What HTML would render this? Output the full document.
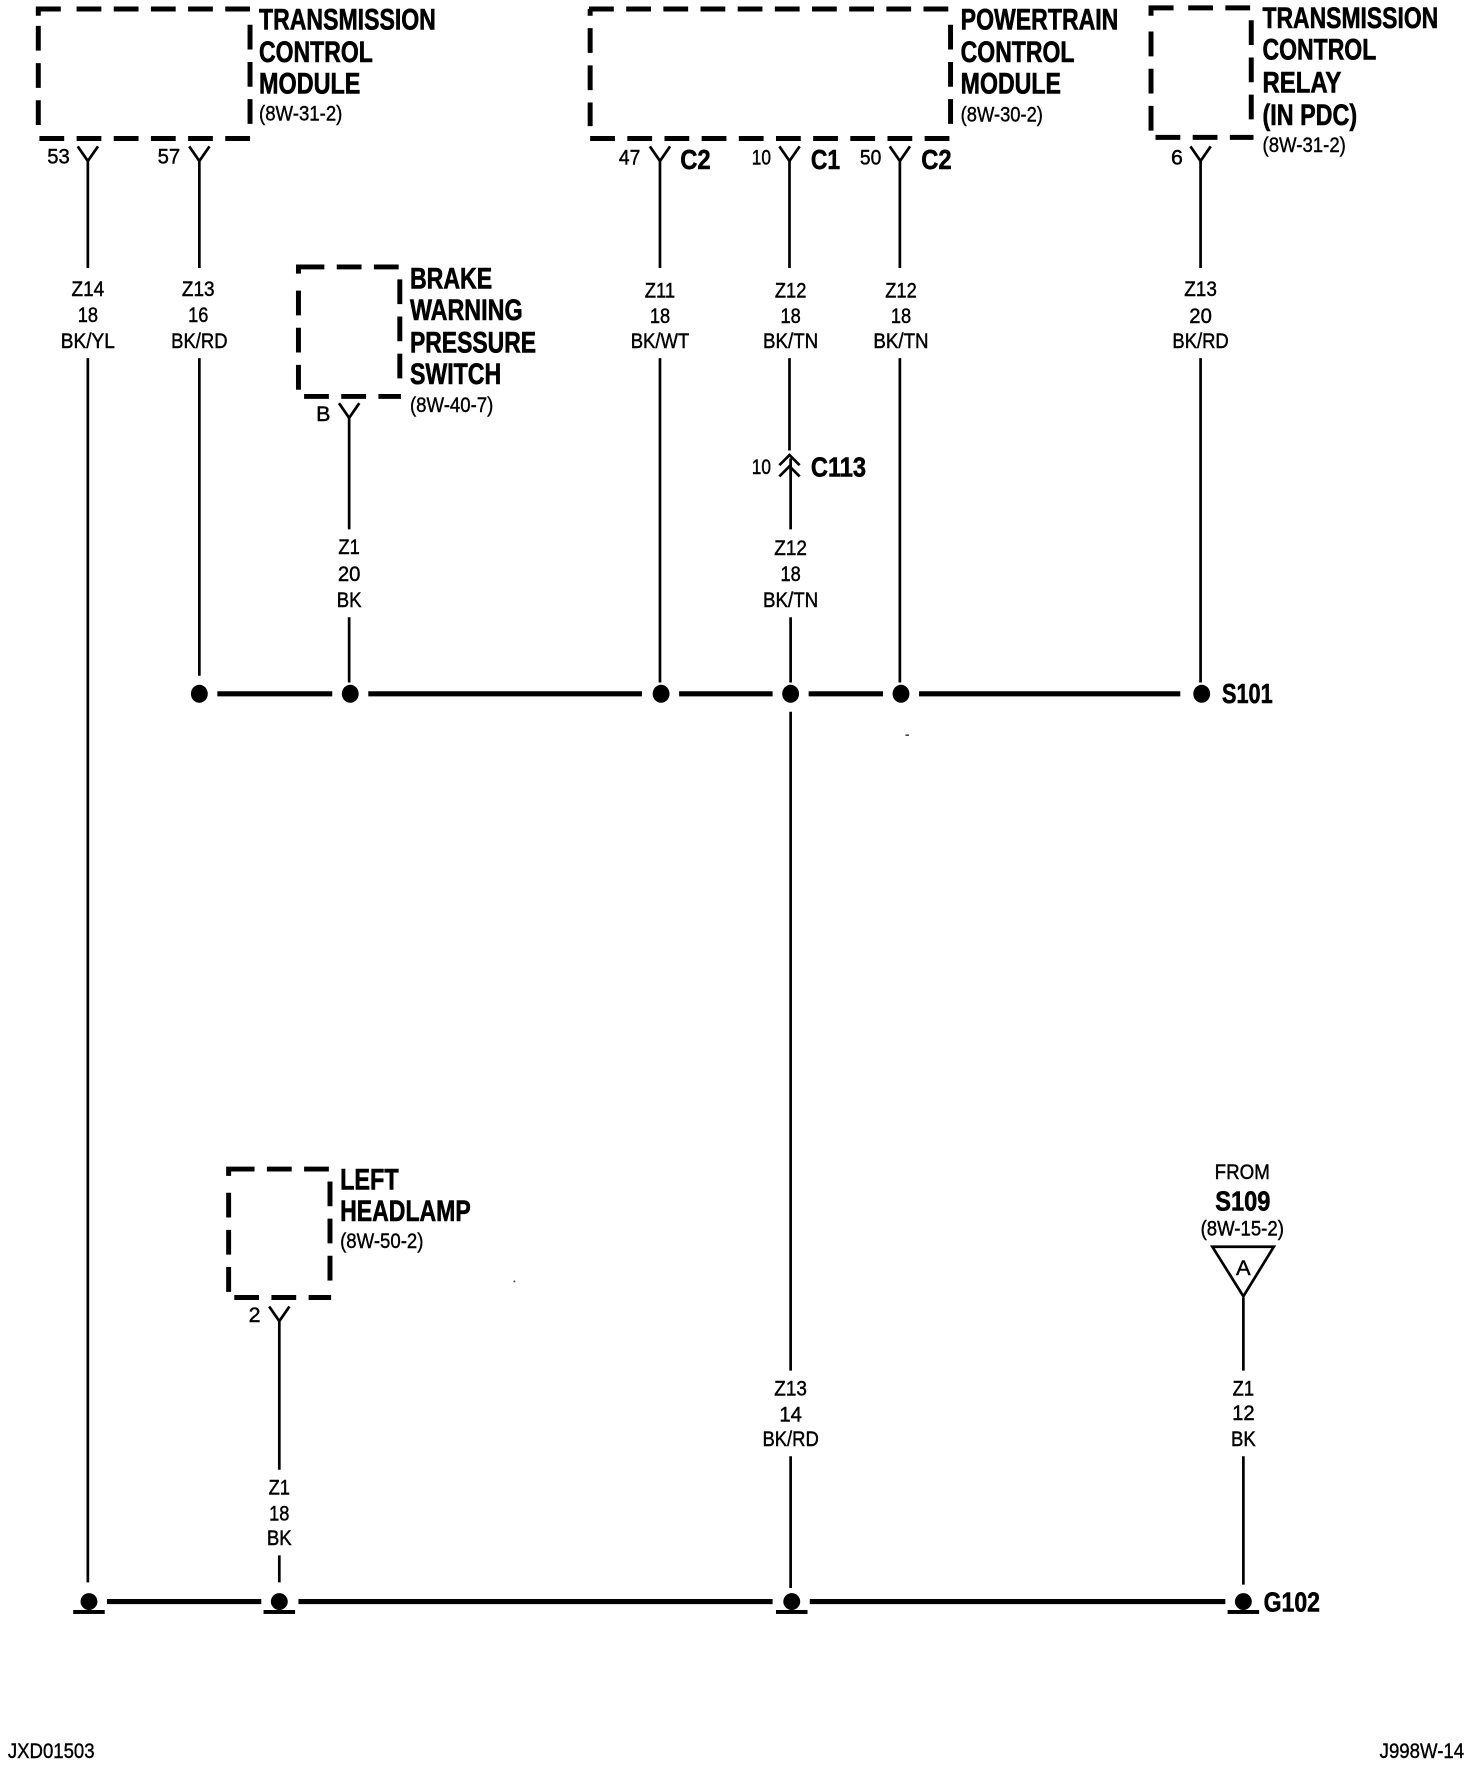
<!DOCTYPE html>
<html>
<head>
<meta charset="utf-8">
<style>
html,body{margin:0;padding:0;background:#fff;}
svg{display:block;}
text{font-family:"Liberation Sans",sans-serif;fill:#000;}
.b{font-weight:bold;font-size:26px;stroke:#000;stroke-width:.55px;}
.m{font-weight:bold;font-size:25px;stroke:#000;stroke-width:.5px;}
.s{font-size:19px;stroke:#000;stroke-width:.4px;text-anchor:middle;}
.r{font-size:19px;stroke:#000;stroke-width:.35px;}
.w{stroke:#000;stroke-width:2.4;fill:none;}
.bus{stroke:#000;stroke-width:4.6;fill:none;}
.d{stroke:#000;stroke-width:4.4;fill:none;stroke-dasharray:22 11;}
.c{stroke:#000;stroke-width:4.4;fill:none;}
</style>
</head>
<body>
<svg xmlns="http://www.w3.org/2000/svg" width="1472" height="1766" viewBox="0 0 1307 1568" preserveAspectRatio="none">
<rect width="1307" height="1568" fill="#fff"/>

<!-- TCM box -->
<path class="c" d="M34 14V8H54"/>
<path class="d" d="M68 8H224"/>
<path class="d" d="M34 23V112"/>
<path class="d" d="M222 22V110"/>
<path class="d" d="M35 123H223"/>
<text class="b" x="230" y="26" textLength="157" lengthAdjust="spacingAndGlyphs">TRANSMISSION</text>
<text class="b" x="230" y="55" textLength="101" lengthAdjust="spacingAndGlyphs">CONTROL</text>
<text class="b" x="230" y="83" textLength="90" lengthAdjust="spacingAndGlyphs">MODULE</text>
<text class="r" x="230" y="107" textLength="74" lengthAdjust="spacingAndGlyphs">(8W-31-2)</text>

<!-- PCM box -->
<path class="d" d="M523 8H845"/>
<path class="d" d="M524 25V112"/>
<path class="d" d="M844 22V110"/>
<path class="d" d="M524 123H845"/>
<path class="c" d="M524 14V8"/>
<text class="b" x="853" y="26" textLength="140" lengthAdjust="spacingAndGlyphs">POWERTRAIN</text>
<text class="b" x="853" y="55" textLength="101" lengthAdjust="spacingAndGlyphs">CONTROL</text>
<text class="b" x="853" y="83" textLength="89" lengthAdjust="spacingAndGlyphs">MODULE</text>
<text class="r" x="853" y="108" textLength="73" lengthAdjust="spacingAndGlyphs">(8W-30-2)</text>

<!-- Relay box -->
<path class="c" d="M1022 14V7H1042"/>
<path class="d" d="M1055 7H1113"/>
<path class="d" d="M1022 28V118"/>
<path class="d" d="M1111 18V107"/>
<path class="d" d="M1026 122H1113"/>
<text class="b" x="1121" y="25" textLength="156" lengthAdjust="spacingAndGlyphs">TRANSMISSION</text>
<text class="b" x="1121" y="53" textLength="101" lengthAdjust="spacingAndGlyphs">CONTROL</text>
<text class="b" x="1121" y="82" textLength="70" lengthAdjust="spacingAndGlyphs">RELAY</text>
<text class="b" x="1121" y="111" textLength="84" lengthAdjust="spacingAndGlyphs">(IN PDC)</text>
<text class="r" x="1121" y="135" textLength="74" lengthAdjust="spacingAndGlyphs">(8W-31-2)</text>

<!-- Brake box -->
<g>
<path class="c" d="M265 243V237H288"/>
<path class="d" d="M299 237H356"/>
<path class="d" d="M265 258V348"/>
<path class="d" d="M355 248V337"/>
<path class="d" d="M270 352H356"/>
</g>
<text class="b" x="364" y="256" textLength="73" lengthAdjust="spacingAndGlyphs">BRAKE</text>
<text class="b" x="364" y="284" textLength="100" lengthAdjust="spacingAndGlyphs">WARNING</text>
<text class="b" x="364" y="313" textLength="112" lengthAdjust="spacingAndGlyphs">PRESSURE</text>
<text class="b" x="364" y="341" textLength="81" lengthAdjust="spacingAndGlyphs">SWITCH</text>
<text class="r" x="364" y="366" textLength="74" lengthAdjust="spacingAndGlyphs">(8W-40-7)</text>

<!-- Headlamp box -->
<g transform="translate(-62 801)">
<path class="c" d="M265 243V237H288"/>
<path class="d" d="M299 237H356"/>
<path class="d" d="M265 258V348"/>
<path class="d" d="M355 248V337"/>
<path class="d" d="M270 351H356"/>
</g>
<text class="b" x="302" y="1056" textLength="52" lengthAdjust="spacingAndGlyphs">LEFT</text>
<text class="b" x="302" y="1084" textLength="116" lengthAdjust="spacingAndGlyphs">HEADLAMP</text>
<text class="r" x="302" y="1108" textLength="74" lengthAdjust="spacingAndGlyphs">(8W-50-2)</text>

<!-- Connector Ys -->
<path class="w" d="M69 130L78 143L87 130"/>
<path class="w" d="M168 130L177 143L186 130"/>
<path class="w" d="M577 130L586 143L595 130"/>
<path class="w" d="M692 130L701 143L710 130"/>
<path class="w" d="M790 130L799 143L808 130"/>
<path class="w" d="M1057 130L1066 143L1075 130"/>
<path class="w" d="M301 358L310 371L319 358"/>
<path class="w" d="M239 1160L248 1173L257 1160"/>

<!-- Pin labels -->
<text class="s" x="52" y="145" textLength="20" lengthAdjust="spacingAndGlyphs">53</text>
<text class="s" x="150" y="145" textLength="20" lengthAdjust="spacingAndGlyphs">57</text>
<text class="s" x="559" y="146" textLength="19" lengthAdjust="spacingAndGlyphs">47</text>
<text class="s" x="676" y="146" textLength="17" lengthAdjust="spacingAndGlyphs">10</text>
<text class="s" x="773" y="146" textLength="19" lengthAdjust="spacingAndGlyphs">50</text>
<text class="s" x="1045" y="146">6</text>
<text class="s" x="287" y="374">B</text>
<text class="s" x="226" y="1174">2</text>
<text class="s" x="676" y="421" textLength="17" lengthAdjust="spacingAndGlyphs">10</text>
<text class="m" x="604" y="150" textLength="27" lengthAdjust="spacingAndGlyphs">C2</text>
<text class="m" x="720" y="150" textLength="26" lengthAdjust="spacingAndGlyphs">C1</text>
<text class="m" x="818" y="150" textLength="27" lengthAdjust="spacingAndGlyphs">C2</text>
<text class="m" x="720" y="423" textLength="49" lengthAdjust="spacingAndGlyphs">C113</text>

<!-- Wires -->
<path class="w" d="M78 143V238M78 318V1405"/>
<path class="w" d="M177 143V238M177 318V600"/>
<path class="w" d="M310 371V470M310 548V606"/>
<path class="w" d="M586 143V238M586 318V606"/>
<path class="w" d="M701 143V238M701 318V400M702 407V470M702 548V606M702 632V1217M702 1293V1410"/>
<path class="w" d="M799 143V238M799 318V606"/>
<path class="w" d="M1066 143V238M1066 318V606"/>
<path class="w" d="M248 1173V1305M248 1381V1405"/>
<path class="w" d="M1104 1152V1217M1104 1293V1407"/>

<!-- C113 chevrons -->
<path class="w" d="M692 413L701 404L710 413M692 423L701 414L710 423"/>

<!-- Wire labels -->
<g>
<text class="s" x="78" y="263" textLength="29" lengthAdjust="spacingAndGlyphs">Z14</text>
<text class="s" x="78" y="286" textLength="18" lengthAdjust="spacingAndGlyphs">18</text>
<text class="s" x="78" y="309" textLength="48" lengthAdjust="spacingAndGlyphs">BK/YL</text>

<text class="s" x="176" y="263" textLength="29" lengthAdjust="spacingAndGlyphs">Z13</text>
<text class="s" x="176" y="286" textLength="18" lengthAdjust="spacingAndGlyphs">16</text>
<text class="s" x="177" y="309" textLength="50" lengthAdjust="spacingAndGlyphs">BK/RD</text>

<text class="s" x="586" y="264" textLength="27" lengthAdjust="spacingAndGlyphs">Z11</text>
<text class="s" x="586" y="287" textLength="18" lengthAdjust="spacingAndGlyphs">18</text>
<text class="s" x="586" y="309" textLength="52" lengthAdjust="spacingAndGlyphs">BK/WT</text>

<text class="s" x="702" y="264" textLength="28" lengthAdjust="spacingAndGlyphs">Z12</text>
<text class="s" x="702" y="287" textLength="18" lengthAdjust="spacingAndGlyphs">18</text>
<text class="s" x="702" y="309" textLength="49" lengthAdjust="spacingAndGlyphs">BK/TN</text>

<text class="s" x="800" y="264" textLength="28" lengthAdjust="spacingAndGlyphs">Z12</text>
<text class="s" x="800" y="287" textLength="18" lengthAdjust="spacingAndGlyphs">18</text>
<text class="s" x="800" y="309" textLength="49" lengthAdjust="spacingAndGlyphs">BK/TN</text>

<text class="s" x="1066" y="263" textLength="29" lengthAdjust="spacingAndGlyphs">Z13</text>
<text class="s" x="1066" y="287" textLength="20" lengthAdjust="spacingAndGlyphs">20</text>
<text class="s" x="1066" y="309" textLength="50" lengthAdjust="spacingAndGlyphs">BK/RD</text>

<text class="s" x="310" y="492" textLength="19" lengthAdjust="spacingAndGlyphs">Z1</text>
<text class="s" x="310" y="516" textLength="20" lengthAdjust="spacingAndGlyphs">20</text>
<text class="s" x="310" y="539" textLength="22" lengthAdjust="spacingAndGlyphs">BK</text>

<text class="s" x="702" y="493" textLength="29" lengthAdjust="spacingAndGlyphs">Z12</text>
<text class="s" x="702" y="516" textLength="18" lengthAdjust="spacingAndGlyphs">18</text>
<text class="s" x="702" y="539" textLength="49" lengthAdjust="spacingAndGlyphs">BK/TN</text>

<text class="s" x="702" y="1239" textLength="29" lengthAdjust="spacingAndGlyphs">Z13</text>
<text class="s" x="702" y="1262" textLength="20" lengthAdjust="spacingAndGlyphs">14</text>
<text class="s" x="702" y="1284" textLength="50" lengthAdjust="spacingAndGlyphs">BK/RD</text>

<text class="s" x="1104" y="1239" textLength="19" lengthAdjust="spacingAndGlyphs">Z1</text>
<text class="s" x="1104" y="1261" textLength="20" lengthAdjust="spacingAndGlyphs">12</text>
<text class="s" x="1104" y="1284" textLength="22" lengthAdjust="spacingAndGlyphs">BK</text>

<text class="s" x="248" y="1327" textLength="19" lengthAdjust="spacingAndGlyphs">Z1</text>
<text class="s" x="248" y="1350" textLength="18" lengthAdjust="spacingAndGlyphs">18</text>
<text class="s" x="248" y="1372" textLength="22" lengthAdjust="spacingAndGlyphs">BK</text>
</g>

<!-- S101 bus -->
<path class="bus" d="M193 616H295M327 616H570M603 616H686M718 616H784M816 616H1048"/>
<g fill="#000">
<ellipse cx="177" cy="616" rx="7.5" ry="8"/>
<ellipse cx="311" cy="616" rx="7.5" ry="8"/>
<ellipse cx="587" cy="616" rx="7.5" ry="8"/>
<ellipse cx="702" cy="616" rx="7.5" ry="8"/>
<ellipse cx="800" cy="616" rx="7.5" ry="8"/>
<ellipse cx="1067" cy="616" rx="7.5" ry="8"/>
</g>
<text class="m" x="1085" y="624" textLength="45" lengthAdjust="spacingAndGlyphs">S101</text>

<!-- G102 bus -->
<path class="bus" d="M95 1422H232M265 1422H686M719 1422H1088"/>
<g fill="#000">
<circle cx="79" cy="1422" r="7.5"/>
<circle cx="248" cy="1422" r="7.5"/>
<circle cx="703" cy="1422" r="7.5"/>
<circle cx="1104" cy="1422" r="7.5"/>
<rect x="65" y="1429.5" width="28" height="3.5"/>
<rect x="234" y="1429.5" width="28" height="3.5"/>
<rect x="689" y="1429.5" width="28" height="3.5"/>
<rect x="1090" y="1429.5" width="28" height="3.5"/>
</g>
<text class="m" x="1122" y="1431" textLength="50" lengthAdjust="spacingAndGlyphs">G102</text>

<!-- FROM S109 -->
<text class="s" x="1103" y="1047" textLength="49" lengthAdjust="spacingAndGlyphs">FROM</text>
<text class="m" x="1079" y="1075" textLength="49" lengthAdjust="spacingAndGlyphs">S109</text>
<text class="s" x="1103" y="1097" textLength="74" lengthAdjust="spacingAndGlyphs">(8W-15-2)</text>
<path d="M1076.5 1107H1131L1104 1151Z" fill="#fff" stroke="#000" stroke-width="2.4"/>
<text class="s" x="1104" y="1132" textLength="13" lengthAdjust="spacingAndGlyphs" font-size="18">A</text>

<!-- Specks -->
<rect x="804" y="652" width="3" height="1.5" fill="#444"/>
<rect x="456" y="1137" width="1.5" height="1.5" fill="#444"/>

<!-- Footer -->
<text class="r" x="7" y="1561" textLength="77" lengthAdjust="spacingAndGlyphs">JXD01503</text>
<text class="r" x="1225" y="1561" textLength="75" lengthAdjust="spacingAndGlyphs">J998W-14</text>
</svg>
</body>
</html>
